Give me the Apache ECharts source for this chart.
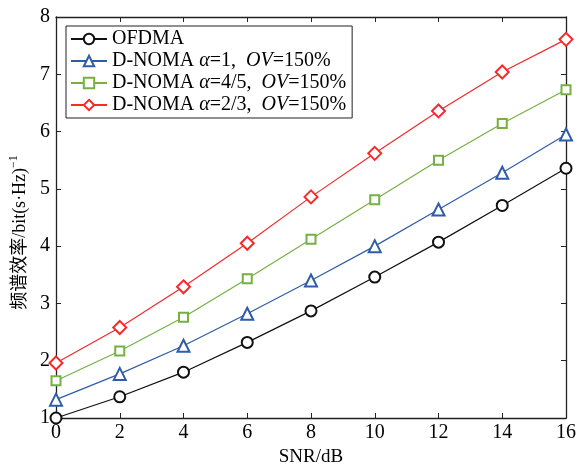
<!DOCTYPE html>
<html>
<head>
    <meta charset="utf-8">
    <title>频谱效率</title>
    <script src="https://cdn.jsdelivr.net/npm/echarts@6/dist/echarts.min.js"></script>
    <style>
        html, body { margin: 0; padding: 0; background: #fff; }
        #chart { width: 587px; height: 464px; }
    </style>
</head>
<body>
<div id="chart"></div>
<script type="text/javascript">
    // 数据
    var snr = [0, 2, 4, 6, 8, 10, 12, 14, 16];
    var ofdma = [1.00, 1.37, 1.80, 2.32, 2.87, 3.46, 4.07, 4.71, 5.36];
    var noma1 = [1.32, 1.77, 2.26, 2.82, 3.40, 4.00, 4.64, 5.28, 5.95];
    var noma45 = [1.65, 2.17, 2.76, 3.43, 4.12, 4.81, 5.50, 6.14, 6.73];
    var noma23 = [1.96, 2.58, 3.29, 4.05, 4.86, 5.62, 6.36, 7.04, 7.61];
    var names = ['OFDMA', 'D-NOMA α=1', 'D-NOMA α=4/5', 'D-NOMA α=2/3'];
    var legendLabels = [
        '{n|OFDMA}',
        '{n|D-NOMA }{i|α}{n|=1,  }{i|OV}{n|=150%}',
        '{n|D-NOMA }{i|α}{n|=4/5,  }{i|OV}{n|=150%}',
        '{n|D-NOMA }{i|α}{n|=2/3,  }{i|OV}{n|=150%}'
    ];

    var serif = 'Liberation Serif, "Noto Sans CJK SC", serif';
    var axisColor = '#222';

    function pairs(ys) {
        return snr.map(function (x, i) { return [x, ys[i]]; });
    }

    var myChart = echarts.init(document.getElementById('chart'));

    function line(name, data, color, symbol, size) {
        return {
            name: name,
            type: 'line',
            data: pairs(data),
            symbol: symbol,
            symbolSize: size,
            showAllSymbol: true,
            lineStyle: { color: color, width: 1.2 },
            itemStyle: { color: color, borderWidth: 1.2 },
            z: 3
        };
    }

    var boxAxisX = {
        type: 'value', min: 0, max: 16, interval: 2,
        axisLine: { show: true, onZero: false, lineStyle: { color: axisColor, width: 1.3 } },
        axisTick: { show: true, inside: true, length: 5, lineStyle: { color: axisColor } },
        splitLine: { show: false }
    };
    var boxAxisY = {
        type: 'value', min: 1, max: 8, interval: 1,
        axisLine: { show: true, onZero: false, lineStyle: { color: axisColor, width: 1.3 } },
        axisTick: { show: true, inside: true, length: 5, lineStyle: { color: axisColor } },
        splitLine: { show: false }
    };

    myChart.setOption({
        animation: false,
        backgroundColor: '#fff',
        textStyle: { fontFamily: serif },
        grid: { left: 56, right: 21, top: 17, bottom: 46, outerBoundsMode: 'none' },
        legend: {
            orient: 'vertical',
            left: 66,
            top: 26,
            padding: [3, 6, 3, 4],
            itemGap: 2,
            itemWidth: 36,
            itemHeight: 13,
            borderColor: '#222',
            borderWidth: 1,
            backgroundColor: '#fff',
            data: names,
            formatter: function (name) {
                return legendLabels[names.indexOf(name)];
            },
            textStyle: {
                rich: {
                    n: { fontFamily: serif, fontSize: 20, color: '#000' },
                    i: { fontFamily: serif, fontSize: 20, fontStyle: 'italic', color: '#000' }
                }
            }
        },
        xAxis: [
            Object.assign({}, boxAxisX, {
                position: 'bottom',
                name: 'SNR/dB',
                nameLocation: 'middle',
                nameGap: 29,
                nameTextStyle: { fontFamily: serif, fontSize: 19, color: '#000' },
                axisLabel: { fontFamily: serif, fontSize: 20, color: '#000', margin: 5 }
            }),
            Object.assign({}, boxAxisX, { position: 'top', axisLabel: { show: false } })
        ],
        yAxis: [
            Object.assign({}, boxAxisY, {
                position: 'left',
                name: '{a|频谱效率/bit(s·Hz)}{s|−1}',
                nameLocation: 'middle',
                nameRotate: 90,
                nameGap: 25,
                nameTextStyle: {
                    padding: [0, 30, 0, 0],
                    rich: {
                        a: { fontFamily: serif, fontSize: 18, color: '#000', lineHeight: 21, verticalAlign: 'bottom' },
                        s: { fontFamily: serif, fontSize: 12, color: '#000', lineHeight: 21, verticalAlign: 'top' }
                    }
                },
                axisLabel: { fontFamily: serif, fontSize: 20, color: '#000', margin: 6 }
            }),
            Object.assign({}, boxAxisY, { position: 'right', axisLabel: { show: false } })
        ],
        series: [
            line(names[0], ofdma, '#111111', 'emptyCircle', 11),
            line(names[1], noma1, '#2f5ca8', 'emptyTriangle', 12),
            line(names[2], noma45, '#76b043', 'emptyRect', 9),
            line(names[3], noma23, '#f52a2a', 'emptyDiamond', 13)
        ]
    });
</script>
</body>
</html>
